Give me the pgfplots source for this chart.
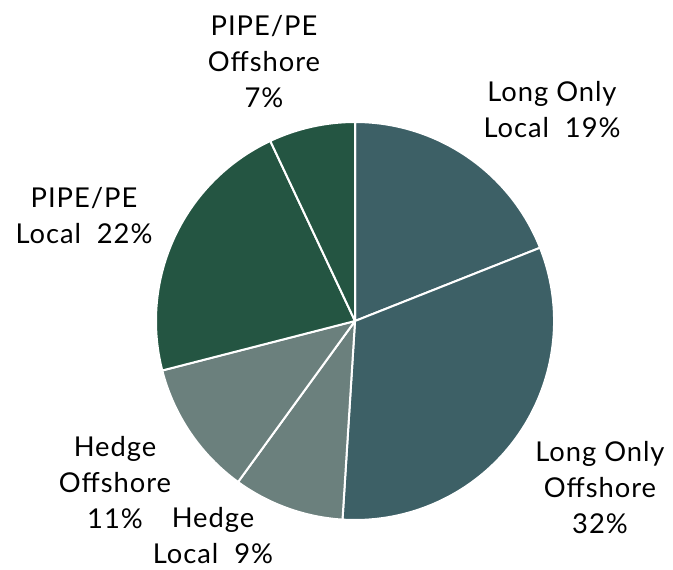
\documentclass[border=0pt]{standalone}
\usepackage{pgfplots}
\usepackage{pgfplotstable}
\pgfplotsset{compat=1.18}
\usepackage{fontspec}
\setmainfont[LetterSpace=3.5]{Lato}
\definecolor{cLO}{HTML}{3D6066}
\definecolor{cHE}{HTML}{6B807D}
\definecolor{cPE}{HTML}{245542}
\pgfplotstableread{
share color
19 cLO
32 cLO
9 cHE
11 cHE
22 cPE
7 cPE
}\piedata
\begin{document}
\begin{tikzpicture}
\begin{axis}[x=0.75pt,y=0.75pt,xmin=0,xmax=673,ymin=0,ymax=569,hide axis,clip=false,scale only axis]
\path (axis cs:0,0) rectangle (axis cs:673,569);
\def\cum{0}
\pgfplotsforeachungrouped \i in {0,...,5}{%
  \pgfplotstablegetelem{\i}{share}\of\piedata \let\sliceval\pgfplotsretval
  \pgfplotstablegetelem{\i}{color}\of\piedata \let\slicecol\pgfplotsretval
  \pgfmathsetmacro\sa{90-3.6*\cum}%
  \pgfmathsetmacro\ea{90-3.6*(\cum+\sliceval)}%
  \pgfmathsetmacro\cum{\cum+\sliceval}%
  \edef\cmd{\noexpand\fill[fill=\slicecol, draw=white, line width=1.5pt, line join=round] (axis cs:355,248) -- ++(\sa:149.25pt) arc[start angle=\sa, end angle=\ea, radius=149.25pt] -- cycle;}%
  \cmd
}
\tikzset{lbl/.style={align=center, font=\fontsize{20.5}{27}\selectfont, inner sep=0pt}}
\node[lbl] at (axis cs:552,459) {Long Only\\Local~~19\%};
\node[lbl] at (axis cs:600,81) {Long Only\\Offshore\\32\%};
\node[lbl] at (axis cs:213,33) {Hedge\\Local~~9\%};
\node[lbl] at (axis cs:115,86) {Hedge\\Offshore\\11\%};
\node[lbl] at (axis cs:264,507) {PIPE/PE\\Offshore\\7\%};
\node[lbl] at (axis cs:84,353) {PIPE/PE\\Local~~22\%};
\end{axis}
\end{tikzpicture}
\end{document}
